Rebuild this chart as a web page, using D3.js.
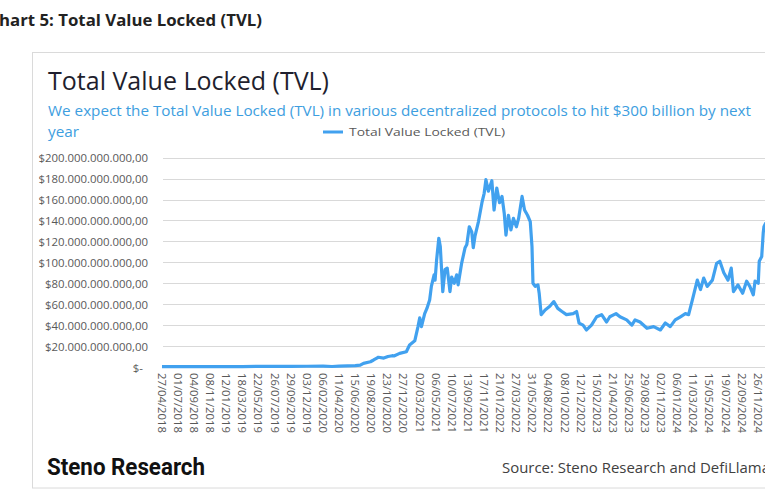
<!DOCTYPE html>
<html><head><meta charset="utf-8">
<script src="https://cdn.jsdelivr.net/npm/d3@7"></script>
<style>html,body{margin:0;padding:0;background:#fff;overflow:hidden}</style>
</head><body><svg id="c" width="765" height="500"></svg>
<script>
const dates = ["2018-04-27","2018-07-01","2018-09-04","2018-11-08","2019-01-12","2019-03-18","2019-05-22","2019-07-26","2019-09-29","2019-12-03","2020-02-06","2020-03-13","2020-04-11","2020-05-15","2020-06-15","2020-07-05","2020-07-18","2020-08-15","2020-08-28","2020-09-10","2020-09-16","2020-10-08","2020-10-25","2020-11-11","2020-11-18","2020-12-11","2021-01-07","2021-01-20","2021-02-10","2021-02-23","2021-03-02","2021-03-09","2021-03-22","2021-03-31","2021-04-11","2021-04-18","2021-04-29","2021-05-03","2021-05-09","2021-05-18","2021-05-24","2021-06-03","2021-06-12","2021-06-21","2021-07-02","2021-07-09","2021-07-19","2021-07-29","2021-08-04","2021-08-18","2021-09-01","2021-09-08","2021-09-18","2021-09-28","2021-10-04","2021-10-11","2021-10-25","2021-11-08","2021-11-17","2021-11-24","2021-12-04","2021-12-18","2021-12-27","2022-01-07","2022-01-18","2022-01-28","2022-02-06","2022-02-13","2022-02-23","2022-03-05","2022-03-15","2022-03-27","2022-04-05","2022-04-19","2022-04-29","2022-05-11","2022-05-22","2022-05-29","2022-06-02","2022-06-11","2022-06-22","2022-06-27","2022-07-05","2022-07-21","2022-08-09","2022-08-25","2022-09-10","2022-09-27","2022-10-15","2022-11-11","2022-11-25","2022-12-05","2022-12-21","2023-01-04","2023-01-24","2023-02-14","2023-03-06","2023-03-26","2023-04-08","2023-05-03","2023-05-19","2023-06-15","2023-07-06","2023-07-19","2023-08-08","2023-09-05","2023-10-02","2023-10-29","2023-11-18","2023-12-08","2023-12-28","2024-01-18","2024-02-07","2024-02-20","2024-03-06","2024-03-26","2024-04-08","2024-04-21","2024-05-05","2024-05-26","2024-06-12","2024-06-25","2024-07-11","2024-07-28","2024-08-10","2024-08-19","2024-09-06","2024-09-25","2024-10-11","2024-10-24","2024-11-07","2024-11-14","2024-11-27","2024-12-01","2024-12-11","2024-12-17","2024-12-20","2024-12-28"];
const tvlBillions = [0.3,0.35,0.3,0.3,0.3,0.4,0.55,0.6,0.6,0.7,0.9,0.5,0.8,1.0,1.3,1.8,3.5,5,6.7,8.5,9.3,8.5,10,10.8,10.5,13,14.6,21,25,38.6,47,38.6,51,56,64,77,88,83,102,123,115,72,93,94.5,72,86,80,88,78.5,99,114,117,134,129,114,125,139,157,166,179,168,178,150,171,157,163,147,126,145,131,142,134,142,163,150,145,139,115,80,77,78.5,70.5,50,54.5,58,62.5,56,53,50,51,53,42,40,35.4,40,48,50,43,48,51,48,45,40,45,43,37,38.6,35.4,42,38.6,45,48,51,50,64,83,74,85,77,83,99,101,90,83,94.5,72,78.5,70.5,82,77,69,82,80,101,105.5,128,134,138];
const yTicks = [0,20,40,60,80,100,120,140,160,180,200];
const yTickLabels = ["$-","$20.000.000.000,00","$40.000.000.000,00","$60.000.000.000,00","$80.000.000.000,00","$100.000.000.000,00","$120.000.000.000,00","$140.000.000.000,00","$160.000.000.000,00","$180.000.000.000,00","$200.000.000.000,00"];
const xTickLabels = ["27/04/2018","01/07/2018","04/09/2018","08/11/2018","12/01/2019","18/03/2019","22/05/2019","26/07/2019","29/09/2019","03/12/2019","06/02/2020","11/04/2020","15/06/2020","19/08/2020","23/10/2020","27/12/2020","02/03/2021","06/05/2021","10/07/2021","13/09/2021","17/11/2021","21/01/2022","27/03/2022","31/05/2022","04/08/2022","08/10/2022","12/12/2022","15/02/2023","21/04/2023","25/06/2023","29/08/2023","02/11/2023","06/01/2024","11/03/2024","15/05/2024","19/07/2024","22/09/2024","26/11/2024"];

const svg = d3.select("#c");
const parseISO = d3.utcParse("%Y-%m-%d");
const parseLbl = d3.utcParse("%d/%m/%Y");
const data = dates.map((d,i)=>({date:parseISO(d), v:tvlBillions[i]}));

const x = d3.scaleUtc().domain([parseLbl(xTickLabels[0]), parseLbl(xTickLabels[xTickLabels.length-1])]).range([162, 758]);
const y = d3.scaleLinear().domain([0,200]).range([367, 157.7]);

const font = "'Open Sans', 'Noto Sans', sans-serif";

// header
svg.append("text").attr("x",262).attr("y",26).attr("text-anchor","end")
  .attr("font-family",font).attr("font-weight",700).attr("font-size",16.8).attr("fill","#222")
  .text("Chart 5: Total Value Locked (TVL)");

// frame
svg.append("rect").attr("x",32.5).attr("y",52.5).attr("width",800).attr("height",435.5)
  .attr("fill","#fff").attr("stroke","#dadada");

// title
svg.append("text").attr("x",48).attr("y",90).attr("font-family",font).attr("font-size",25)
  .attr("fill","#1f1f2e").attr("textLength",281).attr("lengthAdjust","spacingAndGlyphs")
  .text("Total Value Locked (TVL)");
svg.append("text").attr("x",48).attr("y",116).attr("font-family",font).attr("font-size",14.5)
  .attr("fill","#3d9ee0").attr("textLength",703).attr("lengthAdjust","spacingAndGlyphs")
  .text("We expect the Total Value Locked (TVL) in various decentralized protocols to hit $300 billion by next");
svg.append("text").attr("x",48).attr("y",137).attr("font-family",font).attr("font-size",14.5)
  .attr("fill","#3d9ee0").attr("textLength",31).attr("lengthAdjust","spacingAndGlyphs")
  .text("year");

// legend
svg.append("line").attr("x1",323).attr("x2",343).attr("y1",132).attr("y2",132)
  .attr("stroke","#41a1ef").attr("stroke-width",3);
svg.append("text").attr("x",349).attr("y",136).attr("font-family",font).attr("font-size",11)
  .attr("fill","#595959").attr("textLength",156).attr("lengthAdjust","spacingAndGlyphs")
  .text("Total Value Locked (TVL)");

// grid + y labels
const g = svg.append("g");
yTicks.forEach((t,i)=>{
  g.append("line").attr("x1",163).attr("x2",820).attr("y1",Math.round(y(t))+0.5).attr("y2",Math.round(y(t))+0.5)
   .attr("stroke","#d9d9d9").attr("stroke-width",1);
  g.append("text").attr("x", t===0 ? 143 : 148).attr("y",y(t)+4.5).attr("text-anchor","end")
   .attr("font-family",font).attr("font-size",11.4).attr("fill","#595959").text(yTickLabels[i]);
});

// x labels
xTickLabels.forEach(l=>{
  const px = x(parseLbl(l));
  svg.append("text").attr("transform",`translate(${px-4.2},373) rotate(90)`)
    .attr("font-family",font).attr("font-size",11.3).attr("fill","#595959").text(l);
});

// line
const line = d3.line().x(d=>x(d.date)).y(d=>y(d.v)).curve(d3.curveLinear);
svg.append("path").datum(data).attr("d",line).attr("fill","none")
  .attr("stroke","#41a1ef").attr("stroke-width",3.2).attr("stroke-linejoin","round");

// footer
svg.append("text").attr("x",47).attr("y",475).attr("font-family","Roboto, 'Noto Sans', sans-serif")
  .attr("font-weight",700).attr("font-size",23).attr("fill","#111")
  .attr("textLength",158).attr("lengthAdjust","spacingAndGlyphs").text("Steno Research");
svg.append("text").attr("x",502).attr("y",473).attr("font-family",font).attr("font-size",15)
  .attr("fill","#404040").attr("textLength",268).attr("lengthAdjust","spacingAndGlyphs")
  .text("Source: Steno Research and DefiLlama");
</script></body></html>
